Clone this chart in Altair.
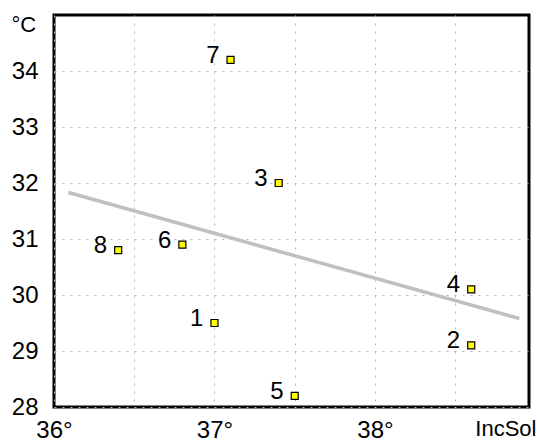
import altair as alt
import pandas as pd

# Station numbers, solar incidence angle (deg) and temperature (°C)
station = ["1", "2", "3", "4", "5", "6", "7", "8"]
inc_sol = [37.0, 38.6, 37.4, 38.6, 37.5, 36.8, 37.1, 36.4]
temp_c = [29.5, 29.1, 32.0, 30.1, 28.2, 30.9, 34.2, 30.8]

# Fitted trend line end points
trend_x = [36.09, 38.90]
trend_y = [31.83, 29.58]

FONT = "Liberation Sans Narrow, Arial Narrow, Liberation Sans, Arial"
FS = 24

pts = pd.DataFrame({"station": station, "incsol": inc_sol, "temp": temp_c})
trend = pd.DataFrame({"incsol": trend_x, "temp": trend_y})

x_scale = alt.Scale(domain=[36, 38.96], nice=False, zero=False)
y_scale = alt.Scale(domain=[28, 35], nice=False, zero=False)

x_axis = alt.Axis(
    values=[36, 36.5, 37, 37.5, 38, 38.5],
    labelExpr="datum.value % 1 == 0 ? datum.value + '°' : ''",
    ticks=False, domain=False, labelFlush=False, labelOverlap=False,
    labelPadding=11, labelBaseline="top",
    title="IncSol", titleX=482, titleY=11, titleFontSize=22,
    titleAlign="right", titleBaseline="top",
)
y_axis = alt.Axis(
    values=[28, 29, 30, 31, 32, 33, 34],
    format="d",
    ticks=False, domain=False, labelFlush=False, labelOverlap=False,
    labelPadding=16,
    title="°C", titleAngle=0, titleX=-43, titleY=-1, titleFontSize=22,
    titleAlign="left", titleBaseline="top",
)

line = alt.Chart(trend).mark_line(color="#c0c0c0", strokeWidth=3.5).encode(
    x=alt.X("incsol:Q", scale=x_scale, axis=x_axis),
    y=alt.Y("temp:Q", scale=y_scale, axis=y_axis),
)

points = alt.Chart(pts).mark_square(
    size=49, color="#ffff00", stroke="#000000", strokeWidth=1.2, opacity=1
).encode(
    x=alt.X("incsol:Q", scale=x_scale),
    y=alt.Y("temp:Q", scale=y_scale),
)

labels = alt.Chart(pts).mark_text(
    align="right", baseline="middle", dx=-11, dy=-4,
    font=FONT, fontSize=FS, color="#000000",
).encode(
    x=alt.X("incsol:Q", scale=x_scale),
    y=alt.Y("temp:Q", scale=y_scale),
    text="station:N",
)

chart = (
    alt.layer(line, points, labels)
    .properties(
        width=475, height=392,
        padding={"left": 54, "top": 15, "right": 8, "bottom": 34},
        autosize=alt.AutoSizeParams(type="none"),
        background="#ffffff",
    )
    .configure_view(stroke="#000000", strokeWidth=3)
    .configure_axis(
        grid=True, gridColor="#b4b4b4", gridDash=[2, 6], gridWidth=1,
        labelFont=FONT, labelFontSize=FS, labelColor="#000000",
        titleFont=FONT, titleColor="#000000",
        titleFontWeight="normal",
    )
)

chart.save("out.html", embed_options={"renderer": "svg", "actions": False})
